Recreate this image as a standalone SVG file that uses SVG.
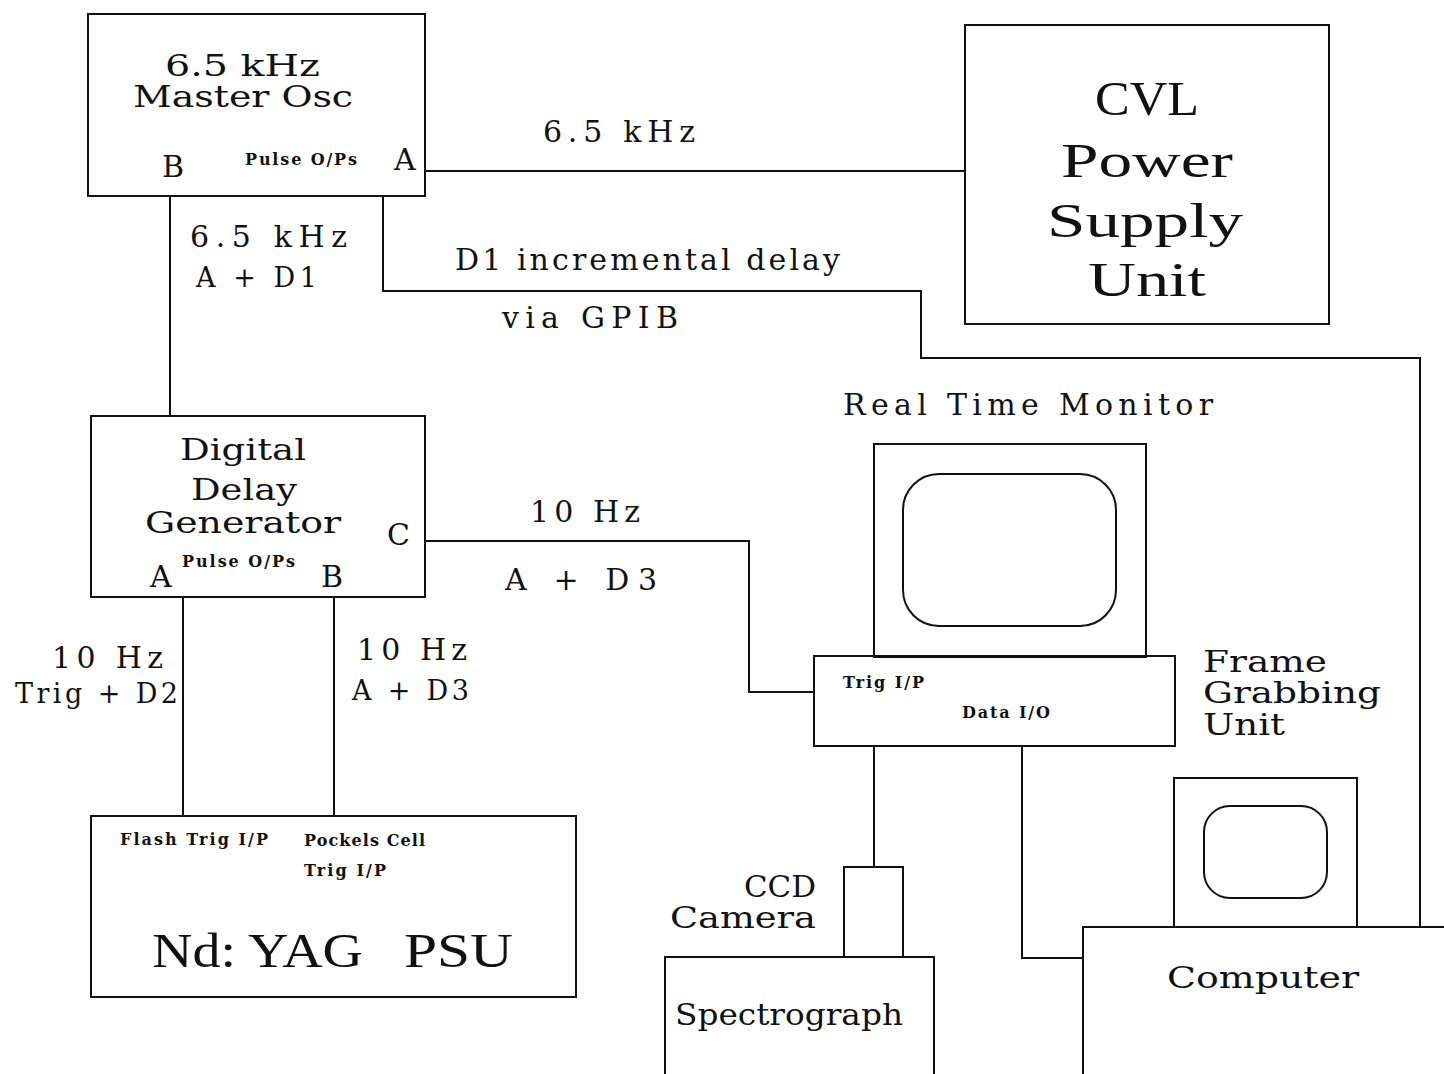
<svg xmlns="http://www.w3.org/2000/svg" width="1444" height="1074" viewBox="0 0 1444 1074">
<style>
.b{fill:none;stroke:#111;stroke-width:2}
.c{fill:none;stroke:#111;stroke-width:2}
text{font-family:"DejaVu Serif","Liberation Serif",serif;fill:#111}
.m{font-size:30px}
.l{font-size:48px;font-family:"Liberation Serif","DejaVu Serif",serif}
.s{font-size:16px;font-weight:bold}
.p{font-size:27px}
</style>
<rect width="1444" height="1074" fill="#fff"/>
<g id="master-osc">
<rect class="b" x="88" y="14" width="337" height="182"/>
<text class="m" x="165" y="76" textLength="155" lengthAdjust="spacingAndGlyphs">6.5 kHz</text>
<text class="m" x="133" y="107" textLength="220" lengthAdjust="spacingAndGlyphs">Master Osc</text>
<text class="m" x="162" y="177" textLength="24">B</text>
<text class="s" x="245" y="165" textLength="112">Pulse O/Ps</text>
<text class="m" x="394" y="170" textLength="24">A</text>
</g>
<g id="cvl-psu">
<rect class="b" x="965" y="25" width="364" height="299"/>
<text class="l" x="1147" y="115" text-anchor="middle" textLength="104" lengthAdjust="spacingAndGlyphs">CVL</text>
<text class="l" x="1147" y="177" text-anchor="middle" textLength="172" lengthAdjust="spacingAndGlyphs">Power</text>
<text class="l" x="1145" y="237" text-anchor="middle" textLength="196" lengthAdjust="spacingAndGlyphs">Supply</text>
<text class="l" x="1147" y="296" text-anchor="middle" textLength="118" lengthAdjust="spacingAndGlyphs">Unit</text>
</g>
<g id="ddg">
<rect class="b" x="91" y="416" width="334" height="181"/>
<text class="m" x="180" y="460" textLength="126" lengthAdjust="spacingAndGlyphs">Digital</text>
<text class="m" x="191" y="500" textLength="106" lengthAdjust="spacingAndGlyphs">Delay</text>
<text class="m" x="145" y="533" textLength="196" lengthAdjust="spacingAndGlyphs">Generator</text>
<text class="m" x="387" y="545" textLength="24">C</text>
<text class="m" x="150" y="587" textLength="24">A</text>
<text class="s" x="182" y="567" textLength="113">Pulse O/Ps</text>
<text class="m" x="321" y="587" textLength="24">B</text>
</g>
<g id="yag-psu">
<rect class="b" x="91" y="816" width="485" height="181"/>
<text class="s" x="120" y="845" textLength="148">Flash Trig I/P</text>
<text class="s" x="304" y="846" textLength="121">Pockels Cell</text>
<text class="s" x="304" y="876" textLength="82">Trig I/P</text>
<text class="l" x="152" y="967" font-size="54" textLength="211" lengthAdjust="spacingAndGlyphs">Nd: YAG</text>
<text class="l" x="404" y="967" font-size="54" textLength="109" lengthAdjust="spacingAndGlyphs">PSU</text>
</g>
<g id="monitor">
<rect class="b" x="874" y="444" width="272" height="213"/>
<rect class="b" x="903" y="474" width="213" height="152" rx="36"/>
<text class="m" x="843" y="415" textLength="370">Real Time Monitor</text>
</g>
<g id="frame-grabber">
<rect class="b" x="814" y="656" width="361" height="90"/>
<text class="s" x="843" y="688" textLength="81">Trig I/P</text>
<text class="s" x="962" y="718" textLength="88">Data I/O</text>
<text class="m" x="1203" y="672" textLength="124" lengthAdjust="spacingAndGlyphs">Frame</text>
<text class="m" x="1203" y="703" textLength="178" lengthAdjust="spacingAndGlyphs">Grabbing</text>
<text class="m" x="1203" y="735" textLength="82" lengthAdjust="spacingAndGlyphs">Unit</text>
</g>
<g id="ccd-camera">
<rect class="b" x="844" y="867" width="59" height="90"/>
<text class="m" x="744" y="897" textLength="72" lengthAdjust="spacingAndGlyphs">CCD</text>
<text class="m" x="670" y="928" textLength="146" lengthAdjust="spacingAndGlyphs">Camera</text>
</g>
<g id="spectrograph">
<path class="b" d="M665,1074 V957 H934 V1074"/>
<text class="m" x="675" y="1025" textLength="228" lengthAdjust="spacingAndGlyphs">Spectrograph</text>
</g>
<g id="computer-monitor">
<rect class="b" x="1174" y="778" width="183" height="149"/>
<rect class="b" x="1204" y="806" width="123" height="92" rx="26"/>
</g>
<g id="computer">
<path class="b" d="M1083,1074 V927 H1444"/>
<text class="m" x="1167" y="988" textLength="192" lengthAdjust="spacingAndGlyphs">Computer</text>
</g>
<g id="connectors">
<path class="c" d="M425,171 H965"/>
<path class="c" d="M170,196 V416"/>
<path class="c" d="M383,196 V291 H921 V358 H1420 V927"/>
<path class="c" d="M425,541 H749 V692 H814"/>
<path class="c" d="M183,597 V816"/>
<path class="c" d="M334,597 V816"/>
<path class="c" d="M874,746 V867"/>
<path class="c" d="M1022,746 V958 H1083"/>
</g>
<g id="labels">
<text class="m" x="543" y="142" textLength="152">6.5 kHz</text>
<text class="m" x="190" y="247" textLength="157">6.5 kHz</text>
<text class="p" x="196" y="287" textLength="121">A + D1</text>
<text class="m" x="455" y="270" textLength="385">D1 incremental delay</text>
<text class="m" x="502" y="328" textLength="176">via GPIB</text>
<text class="m" x="530" y="522" textLength="110">10 Hz</text>
<text class="m" x="505" y="590" textLength="152">A + D3</text>
<text class="m" x="52" y="668" textLength="111">10 Hz</text>
<text class="p" x="15" y="703" textLength="163">Trig + D2</text>
<text class="m" x="357" y="660" textLength="110">10 Hz</text>
<text class="p" x="352" y="700" textLength="117">A + D3</text>
</g>
</svg>
